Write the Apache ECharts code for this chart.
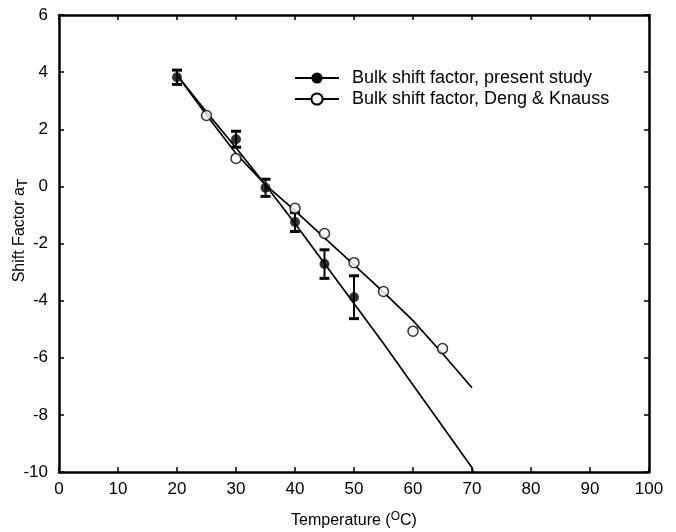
<!DOCTYPE html>
<html><head><meta charset="utf-8">
<script src="https://cdn.jsdelivr.net/npm/echarts@6/dist/echarts.min.js"></script>
<style>html,body{margin:0;padding:0;background:#fff}#c{width:676px;height:532px}</style>
</head><body><div id="c"></div>
<script>
// Measured data: present study (filled circles, with error bars)
const presentT = [20, 30, 35, 40, 45, 50];
const presentA = [3.82, 1.65, -0.05, -1.25, -2.72, -3.88];
const presentErr = [0.25, 0.28, 0.3, 0.33, 0.5, 0.75];
// Deng & Knauss (open circles)
const dengT = [25, 30, 40, 45, 50, 55, 60, 65];
const dengA = [2.48, 0.98, -0.77, -1.65, -2.67, -3.68, -5.07, -5.68];
// Fitted curves
const fitPresentT = [20, 25, 30, 35, 40, 45, 50, 55, 60, 65, 70, 70.2];
const fitPresentA = [3.9, 2.6, 1.35, 0.05, -1.3, -2.7, -4.1, -5.5, -6.95, -8.4, -9.85, -10];
const fitDengT = [20, 25, 30, 35, 40, 45, 50, 55, 60, 65, 70];
const fitDengA = [3.9, 2.5, 1.15, 0.05, -0.85, -1.8, -2.75, -3.7, -4.7, -5.85, -7.05];
const seriesNames = ['Bulk shift factor, present study', 'Bulk shift factor, Deng & Knauss'];

const zip = (a, b) => a.map((v, i) => [v, b[i]]);
const font = '"Liberation Sans", Arial, sans-serif';
const chart = echarts.init(document.getElementById('c'), null, {renderer: 'canvas'});

const axisCommon = () => ({
  axisLine: {show: true, onZero: false, lineStyle: {color: '#000', width: 2.5}},
  axisTick: {show: true, inside: true, length: 5, lineStyle: {color: '#000', width: 1.5}},
  splitLine: {show: false}
});

chart.setOption({
  backgroundColor: '#fff',
  animation: false,
  grid: {left: 59, right: 27, top: 15, bottom: 60, containLabel: false, outerBoundsMode: 'none'},
  legend: {
    orient: 'vertical', left: 289, top: 64, itemWidth: 44, itemHeight: 14, itemGap: 3,
    textStyle: {fontFamily: font, fontSize: 18, color: '#000', padding: [0, 0, 0, 8]},
    data: seriesNames
  },
  xAxis: [
    Object.assign({type: 'value', min: 0, max: 100, interval: 10, position: 'bottom',
      name: '{n|Temperature (}{s|O}{n|C)}', nameLocation: 'middle', nameGap: 39, nameMoveOverlap: false,
      nameTextStyle: {rich: {n: {fontFamily: font, fontSize: 16, color: '#000'}, s: {fontFamily: font, fontSize: 12, color: '#000', verticalAlign: 'top', padding: [0, 0, 7, 0]}}},
      axisLabel: {fontFamily: font, fontSize: 17, color: '#000', margin: 9}}, axisCommon()),
    Object.assign({type: 'value', min: 0, max: 100, interval: 10, position: 'top', axisLabel: {show: false}}, axisCommon())
  ],
  yAxis: [
    Object.assign({type: 'value', min: -10, max: 6, interval: 2, position: 'left',
      name: '{n|Shift Factor a}{s|T}', nameLocation: 'middle', nameGap: 29, nameRotate: 90, nameMoveOverlap: false,
      nameTextStyle: {padding: [0, 0, 0, 26], rich: {n: {fontFamily: font, fontSize: 16, color: '#000'}, s: {fontFamily: font, fontSize: 14, color: '#000', padding: [7, 0, 0, 0]}}},
      axisLabel: {fontFamily: font, fontSize: 17, color: '#000', margin: 11}}, axisCommon()),
    Object.assign({type: 'value', min: -10, max: 6, interval: 2, position: 'right', axisLabel: {show: false}}, axisCommon())
  ],
  series: [
    {name: seriesNames[0], type: 'line', data: zip(fitPresentT, fitPresentA), showSymbol: false,
      symbol: 'circle', symbolSize: 9, itemStyle: {color: '#000'}, lineStyle: {color: '#000', width: 1.7}, z: 2},
    {name: seriesNames[1], type: 'line', data: zip(fitDengT, fitDengA), showSymbol: false,
      symbol: 'emptyCircle', symbolSize: 8, itemStyle: {color: '#000', borderWidth: 1.5}, lineStyle: {color: '#000', width: 1.7}, z: 2},
    {type: 'custom', name: 'err', z: 3,
      data: presentT.map((t, i) => [t, presentA[i] - presentErr[i], presentA[i] + presentErr[i]]),
      renderItem: function (params, api) {
        const lo = api.coord([api.value(0), api.value(1)]);
        const hi = api.coord([api.value(0), api.value(2)]);
        const w = 5;
        return {type: 'group', children: [
          {type: 'line', shape: {x1: lo[0], y1: lo[1], x2: hi[0], y2: hi[1]}, style: {stroke: '#000', lineWidth: 2}},
          {type: 'line', shape: {x1: lo[0] - w, y1: lo[1], x2: lo[0] + w, y2: lo[1]}, style: {stroke: '#000', lineWidth: 3}},
          {type: 'line', shape: {x1: hi[0] - w, y1: hi[1], x2: hi[0] + w, y2: hi[1]}, style: {stroke: '#000', lineWidth: 3}}
        ]};
      }},
    {type: 'scatter', name: 'presentPts', data: zip(presentT, presentA), symbol: 'circle', symbolSize: 10,
      itemStyle: {color: '#000'}, z: 4},
    {type: 'scatter', name: 'dengPts', data: zip(dengT, dengA), symbol: 'circle', symbolSize: 10,
      itemStyle: {color: '#fff', borderColor: '#000', borderWidth: 1.5}, z: 4}
  ]
});
</script></body></html>
